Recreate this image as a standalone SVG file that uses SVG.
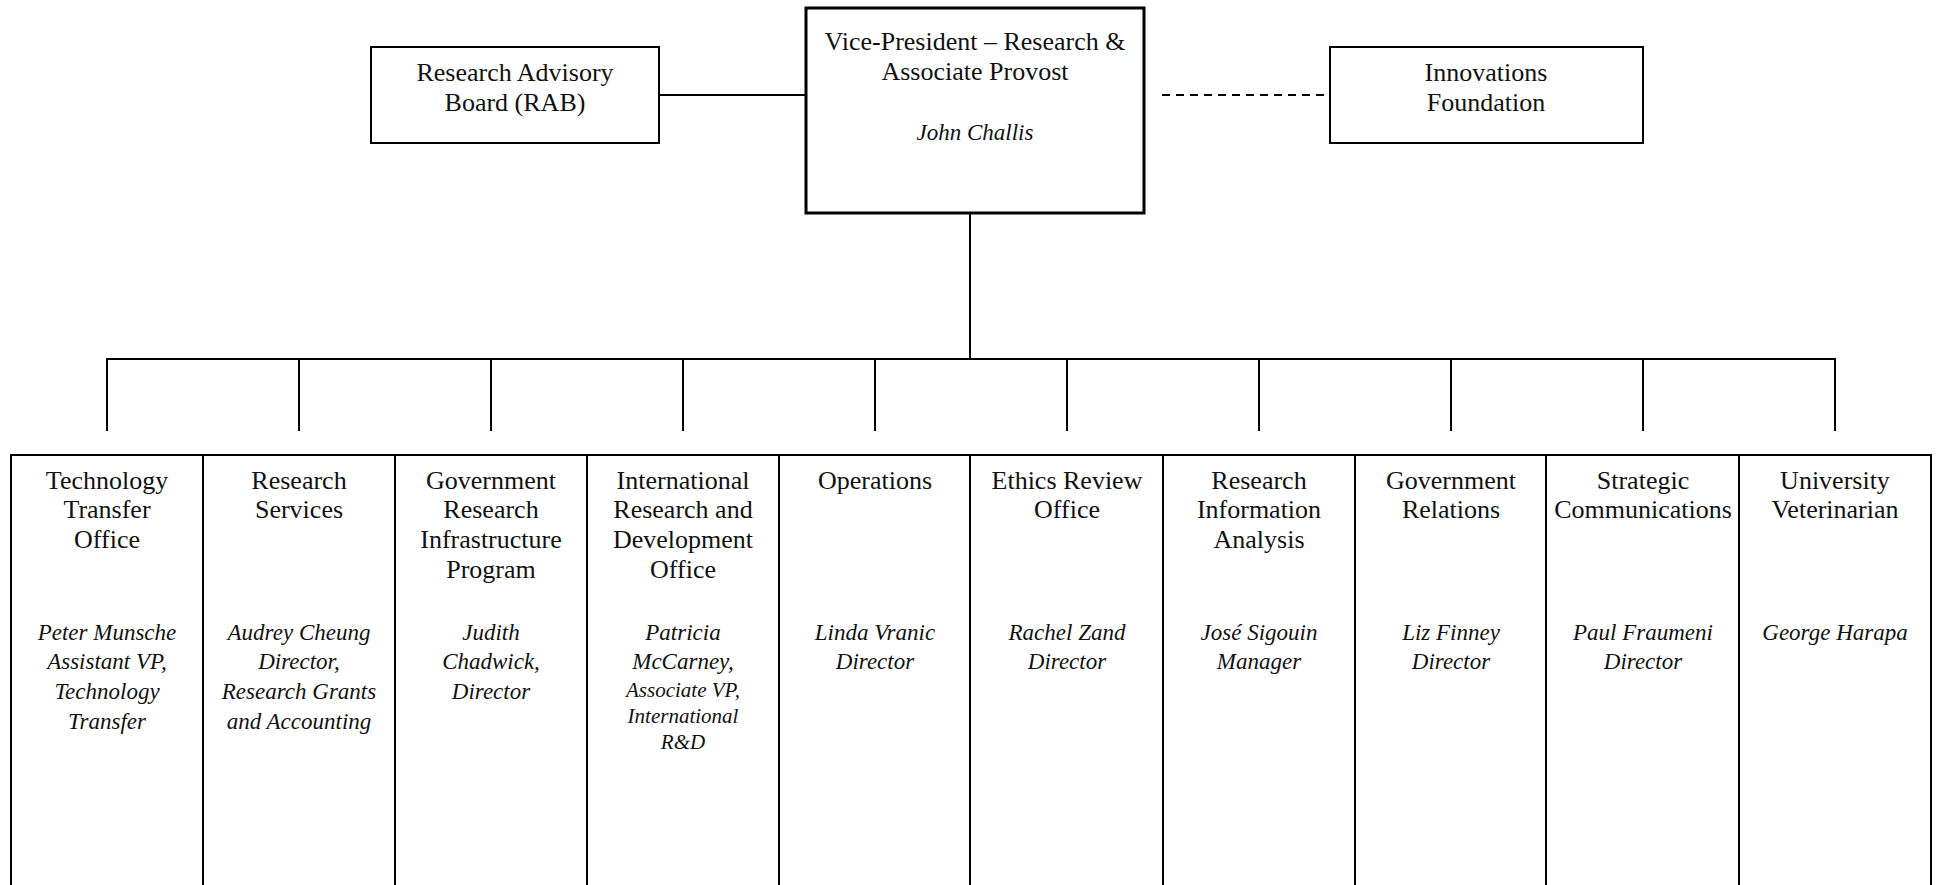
<svg xmlns="http://www.w3.org/2000/svg" width="1938" height="885" viewBox="0 0 1938 885">
<style>
.box{fill:#fff;stroke:#000;stroke-width:2}
.vp{fill:#fff;stroke:#000;stroke-width:3}
.c{stroke:#000;stroke-width:2;fill:none}
.d{stroke:#000;stroke-width:2;fill:none;stroke-dasharray:8 6}
text{font-family:"Liberation Serif","Times New Roman",serif;font-size:26px;fill:#111;text-anchor:middle}
.i{font-style:italic;font-size:23px}
.s{font-size:21px}
</style>
<rect width="1938" height="885" fill="#fff"/>
<g id="connectors">
<line class="c" x1="659" y1="95" x2="805" y2="95"/>
<line class="d" x1="1162" y1="95" x2="1326" y2="95"/>
<line class="c" x1="970" y1="213" x2="970" y2="359"/>
<line class="c" x1="106" y1="359" x2="1836" y2="359"/>
<line class="c" x1="107" y1="358" x2="107" y2="431"/>
<line class="c" x1="299" y1="358" x2="299" y2="431"/>
<line class="c" x1="491" y1="358" x2="491" y2="431"/>
<line class="c" x1="683" y1="358" x2="683" y2="431"/>
<line class="c" x1="875" y1="358" x2="875" y2="431"/>
<line class="c" x1="1067" y1="358" x2="1067" y2="431"/>
<line class="c" x1="1259" y1="358" x2="1259" y2="431"/>
<line class="c" x1="1451" y1="358" x2="1451" y2="431"/>
<line class="c" x1="1643" y1="358" x2="1643" y2="431"/>
<line class="c" x1="1835" y1="358" x2="1835" y2="431"/>
</g>
<g id="vp">
<rect class="vp" x="806" y="8" width="338" height="205"/>
<text x="975" y="50">Vice-President – Research &amp;</text>
<text x="975" y="80">Associate Provost</text>
<text class="i" x="975" y="140">John Challis</text>
</g>
<g id="rab">
<rect class="box" x="371" y="47" width="288" height="96"/>
<text x="515" y="81">Research Advisory</text>
<text x="515" y="111">Board (RAB)</text>
</g>
<g id="innovations">
<rect class="box" x="1330" y="47" width="313" height="96"/>
<text x="1486" y="81">Innovations</text>
<text x="1486" y="111">Foundation</text>
</g>
<g id="tto">
<rect class="box" x="11" y="455" width="192" height="435"/>
<text x="107" y="489">Technology</text>
<text x="107" y="518">Transfer</text>
<text x="107" y="548">Office</text>
<text class="i" x="107" y="640">Peter Munsche</text>
<text class="i" x="107" y="669">Assistant VP,</text>
<text class="i" x="107" y="699">Technology</text>
<text class="i" x="107" y="729">Transfer</text>
</g>
<g id="rs">
<rect class="box" x="203" y="455" width="192" height="435"/>
<text x="299" y="489">Research</text>
<text x="299" y="518">Services</text>
<text class="i" x="299" y="640">Audrey Cheung</text>
<text class="i" x="299" y="669">Director,</text>
<text class="i" x="299" y="699">Research Grants</text>
<text class="i" x="299" y="729">and Accounting</text>
</g>
<g id="grip">
<rect class="box" x="395" y="455" width="192" height="435"/>
<text x="491" y="489">Government</text>
<text x="491" y="518">Research</text>
<text x="491" y="548">Infrastructure</text>
<text x="491" y="578">Program</text>
<text class="i" x="491" y="640">Judith</text>
<text class="i" x="491" y="669">Chadwick,</text>
<text class="i" x="491" y="699">Director</text>
</g>
<g id="intl">
<rect class="box" x="587" y="455" width="192" height="435"/>
<text x="683" y="489">International</text>
<text x="683" y="518">Research and</text>
<text x="683" y="548">Development</text>
<text x="683" y="578">Office</text>
<text class="i" x="683" y="640">Patricia</text>
<text class="i" x="683" y="669">McCarney,</text>
<text class="i s" x="683" y="697">Associate VP,</text>
<text class="i s" x="683" y="723">International</text>
<text class="i s" x="683" y="749">R&amp;D</text>
</g>
<g id="ops">
<rect class="box" x="779" y="455" width="191" height="435"/>
<text x="875" y="489">Operations</text>
<text class="i" x="875" y="640">Linda Vranic</text>
<text class="i" x="875" y="669">Director</text>
</g>
<g id="ethics">
<rect class="box" x="970" y="455" width="193" height="435"/>
<text x="1067" y="489">Ethics Review</text>
<text x="1067" y="518">Office</text>
<text class="i" x="1067" y="640">Rachel Zand</text>
<text class="i" x="1067" y="669">Director</text>
</g>
<g id="ria">
<rect class="box" x="1163" y="455" width="192" height="435"/>
<text x="1259" y="489">Research</text>
<text x="1259" y="518">Information</text>
<text x="1259" y="548">Analysis</text>
<text class="i" x="1259" y="640">José Sigouin</text>
<text class="i" x="1259" y="669">Manager</text>
</g>
<g id="gr">
<rect class="box" x="1355" y="455" width="191" height="435"/>
<text x="1451" y="489">Government</text>
<text x="1451" y="518">Relations</text>
<text class="i" x="1451" y="640">Liz Finney</text>
<text class="i" x="1451" y="669">Director</text>
</g>
<g id="sc">
<rect class="box" x="1546" y="455" width="193" height="435"/>
<text x="1643" y="489">Strategic</text>
<text x="1643" y="518">Communications</text>
<text class="i" x="1643" y="640">Paul Fraumeni</text>
<text class="i" x="1643" y="669">Director</text>
</g>
<g id="uv">
<rect class="box" x="1739" y="455" width="192" height="435"/>
<text x="1835" y="489">University</text>
<text x="1835" y="518">Veterinarian</text>
<text class="i" x="1835" y="640">George Harapa</text>
</g>
</svg>
